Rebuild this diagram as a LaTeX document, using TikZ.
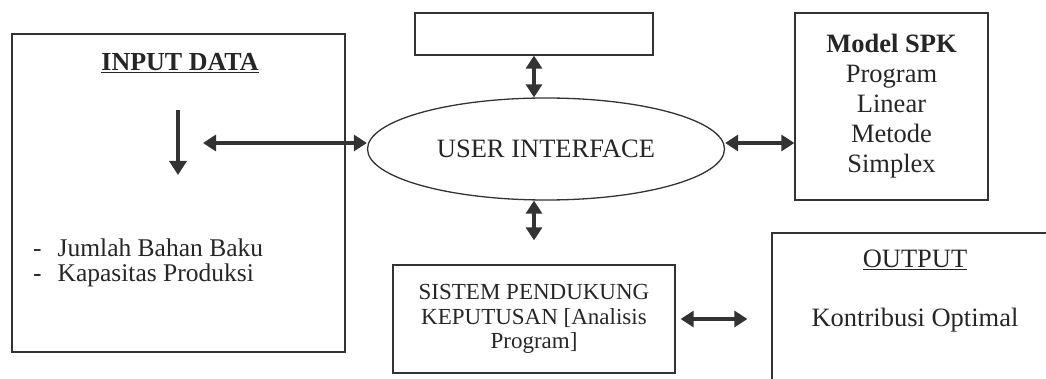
\documentclass[tikz,border=0pt]{standalone}
\usepackage{fontspec}
\setmainfont{Liberation Serif}
\usetikzlibrary{shapes.geometric,arrows.meta}

\begin{document}
\begin{tikzpicture}[x=1pt,y=-1pt,
    every node/.style={font=\fontsize{26.5}{30}\selectfont,text=black!85},
    box/.style={draw=black!80,line width=1.3pt,rectangle,inner sep=0pt},
    link/.style={{Triangle[length=13pt,width=16pt]}-{Triangle[length=13pt,width=16pt]},
                 line width=4pt,draw=black!80},
    down/.style={-{Triangle[length=14pt,width=17pt]},line width=4.5pt,draw=black!80}]
\clip (0,0) rectangle (1046,379);
\node[box,minimum width=333pt,minimum height=318pt] (input) at (178.5,193) {};
\node[font=\bfseries\fontsize{26}{30}\selectfont] (intitle) at (180,63) {\underline{INPUT DATA}};
\coordinate (dtop) at (178,110);
\coordinate (dbot) at (178,175);
\draw[down] (dtop) -- (dbot);
\node[anchor=west,align=left,inner sep=0pt,font=\fontsize{25.5}{25}\selectfont] (inlist) at (33,263)
  {-\hspace{16pt}Jumlah Bahan Baku\\-\hspace{16pt}Kapasitas Produksi};

\node[box,minimum width=238pt,minimum height=42pt] (blank) at (534,34) {};
\node[draw=black!80,line width=1.3pt,ellipse,inner sep=0pt,
      minimum width=357pt,minimum height=102pt] (ui) at (546,149) {USER INTERFACE};

\node[box,minimum width=193pt,minimum height=187pt,align=center] (model) at (891.5,106.5)
  {\textbf{Model SPK}\\Program\\Linear\\Metode\\Simplex};

\node[box,minimum width=282pt,minimum height=108pt,align=center,
      font=\fontsize{23}{24.5}\selectfont] (spk) at (534,319)
  {SISTEM PENDUKUNG\\KEPUTUSAN [Analisis\\Program]};

\node[box,minimum width=288pt,minimum height=167pt] (output) at (916,316.5) {};
\node (outtitle) at (915,260) {\underline{OUTPUT}};
\node (outtext) at (915,320) {Kontribusi Optimal};

\coordinate (uileft) at (203,143);
\draw[link] (uileft) -- (ui.west |- uileft);
\draw[link] (blank.south) -- (blank.south |- ui.north);
\draw[link,shorten >=24pt] (ui.south -| spk.north) -- (spk.north);
\draw[link] (ui.east |- uileft) -- (model.west |- uileft);
\draw[link,shorten <=5pt,shorten >=24pt] (spk.east) -- (output.west |- spk.east);
\end{tikzpicture}
\end{document}
